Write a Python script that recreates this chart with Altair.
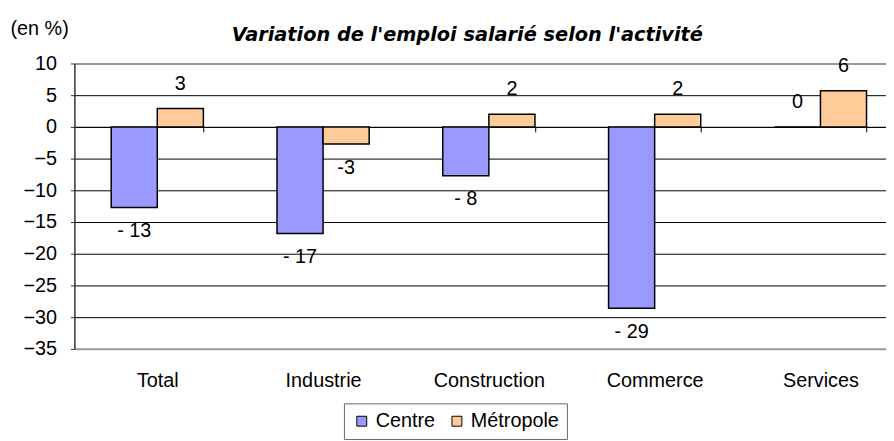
import altair as alt
import pandas as pd

categories = ["Total", "Industrie", "Construction", "Commerce", "Services"]
series = ["Centre", "Métropole"]
centre_values = [-12.7, -16.8, -7.7, -28.6, 0.0]
metro_values = [2.9, -2.7, 2.0, 2.0, 5.7]
centre_labels = ["- 13", "- 17", "- 8", "- 29", "0"]
metro_labels = ["3", "-3", "2", "2", "6"]
y_ticks = [10, 5, 0, -5, -10, -15, -20, -25, -30, -35]

rows = []
for c, v, l in zip(categories, centre_values, centre_labels):
    rows.append({"activite": c, "serie": "Centre", "valeur": v, "etiquette": l})
for c, v, l in zip(categories, metro_values, metro_labels):
    rows.append({"activite": c, "serie": "Métropole", "valeur": v, "etiquette": l})
df = pd.DataFrame(rows)

FONT = "Liberation Sans"
STEP = 167.3

x_enc = alt.X(
    "activite:N",
    sort=categories,
    scale=alt.Scale(range=[0, STEP * 5], paddingInner=0.444, paddingOuter=0.222),
    axis=alt.Axis(
        title=None, orient="bottom", offset=-224,
        domainColor="black", domainWidth=1,
        tickBand="extent", tickSize=5, tickColor="black", tickWidth=1,
        labelPadding=257, labelBaseline="alphabetic",
        labelFont=FONT, labelFontSize=20, labelColor="black", labelAngle=0,
        grid=False,
    ),
)
xoff = alt.XOffset("serie:N", sort=series, scale=alt.Scale(paddingInner=0, paddingOuter=0))
y_enc = alt.Y(
    "valeur:Q",
    stack=None,
    scale=alt.Scale(domain=[-35, 10], nice=False),
    axis=alt.Axis(
        values=y_ticks, title="(en %)", titleAngle=0, titleAlign="left",
        titleBaseline="alphabetic", titleX=-65, titleY=-29,
        titleFont=FONT, titleFontSize=20, titleFontWeight="normal", titleColor="black",
        labelFont=FONT, labelFontSize=20, labelColor="black", labelPadding=14,
        tickSize=4, tickColor="#333333", domainColor="#333333", domainWidth=1.5,
        grid=True,
        gridColor={"condition": {"test": "datum.value == 10 || datum.value == -35", "value": "#999999"}, "value": "black"},
        gridWidth={"condition": {"test": "datum.value == 10 || datum.value == -35", "value": 2}, "value": 1},
    ),
)

bars = alt.Chart(df).mark_bar(stroke="black", strokeWidth=1.5).encode(
    x=x_enc,
    xOffset=xoff,
    y=y_enc,
    y2=alt.datum(0),
    color=alt.Color(
        "serie:N",
        scale=alt.Scale(domain=series, range=["#9999FF", "#FFCC99"]),
        legend=alt.Legend(
            title=None, orient="none", legendX=272, legendY=343, direction="horizontal",
            symbolType="square", symbolSize=100, symbolStrokeColor="black", symbolStrokeWidth=1,
            labelFont=FONT, labelFontSize=20, labelColor="black", labelOffset=4,
            columnPadding=11, padding=8, strokeColor="#666666", fillColor="white",
        ),
    ),
)

text_pos = alt.Chart(df).transform_filter("datum.valeur >= 0").mark_text(
    font=FONT, fontSize=20, color="black", baseline="alphabetic", dy=-19
).encode(x=x_enc, xOffset=xoff, y=y_enc, text="etiquette:N")

text_neg = alt.Chart(df).transform_filter("datum.valeur < 0").mark_text(
    font=FONT, fontSize=20, color="black", baseline="alphabetic", dy=30
).encode(x=x_enc, xOffset=xoff, y=y_enc, text="etiquette:N")

chart = alt.layer(bars, text_pos, text_neg).properties(
    width=819,
    height=288,
    padding={"left": 67, "top": 54, "right": 0, "bottom": 91},
    autosize=alt.AutoSizeParams(type="none"),
    title=alt.TitleParams(
        text="Variation de l'emploi salarié selon l'activité",
        font="DejaVu Sans", fontSize=19.5, fontWeight="bold", fontStyle="italic",
        color="black", anchor="middle", frame="group", dx=-13, baseline="alphabetic", offset=-42,
    ),
).configure_view(stroke=None)

chart.save("out.html", embed_options={"renderer": "svg", "actions": False})
